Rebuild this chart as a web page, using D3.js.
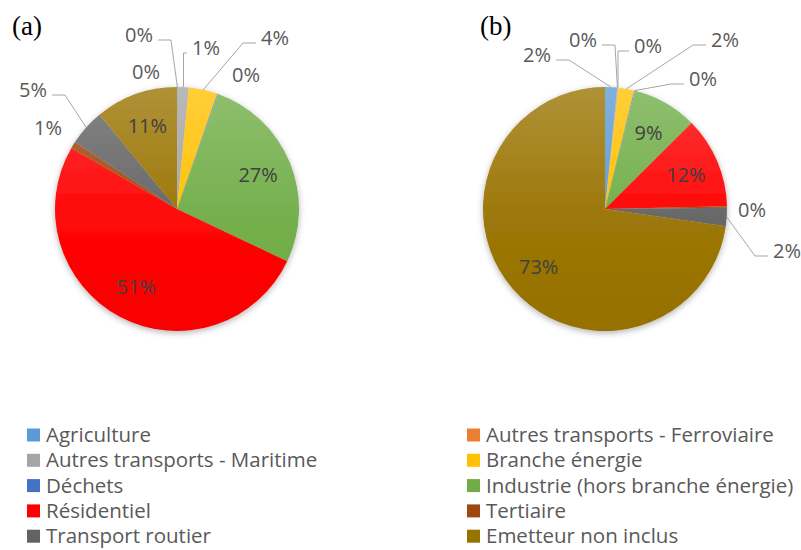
<!DOCTYPE html>
<html>
<head>
<meta charset="utf-8">
<script src="https://cdn.jsdelivr.net/npm/d3@7"></script>
<style>
  body { margin: 0; background: #fff; }
  svg { display: block; }
  .pct { font-family: "Open Sans", sans-serif; font-size: 20px; fill: #595959; }
  .pct.inside { fill: #404040; }
  .legend text { font-family: "Open Sans", sans-serif; font-size: 20.5px; fill: #595959; }
  .panel { font-family: "Liberation Serif", "Times New Roman", serif; font-size: 27px; fill: #000; }
  .leader { fill: none; stroke: #a6a6a6; stroke-width: 1; }
</style>
</head>
<body>
<svg width="801" height="550"></svg>
<script>
// categories, in legend / slice order
var categories = ["Agriculture", "Autres transports - Ferroviaire", "Autres transports - Maritime",
    "Branche énergie", "Déchets", "Industrie (hors branche énergie)", "Résidentiel",
    "Tertiaire", "Transport routier", "Emetteur non inclus"];
var colors = ["#5b9bd5", "#ed7d31", "#a5a5a5", "#ffc000", "#4472c4", "#70ad47", "#ff0000",
    "#9e480e", "#636363", "#997300"];

// parts in %
var valuesA = [0.1, 0.05, 1.4, 3.8, 0.1, 26.6, 51.3, 0.9, 4.8, 10.95];
var valuesB = [1.6, 0.05, 0.1, 2.1, 0.1, 8.6, 12.1, 0.2, 2.4, 72.75];

// label placement (Excel "best fit"): offset from pie centre, and whether a leader line is drawn
// slices not listed here get their label inside
var outsideA = {
    0: [-38, -174, true], 1: [-31, -137, false], 2: [29, -161, true], 3: [98, -171, true],
    4: [69, -134, false], 7: [-129, -81, false], 8: [-144, -119, true]
};
var outsideB = {
    0: [-68, -154, true], 1: [-22, -169, true], 2: [43, -163, true], 3: [120, -169, true],
    4: [98, -130, true], 7: [147, 1, false], 8: [182, 42, true]
};

var radius = 122;
var svg = d3.select("svg");
var defs = svg.append("defs");

var shade = defs.append("linearGradient").attr("id", "shade")
    .attr("x1", 0).attr("y1", 0).attr("x2", 0).attr("y2", 1);
shade.append("stop").attr("offset", "0%").attr("stop-color", "#fff").attr("stop-opacity", 0.22);
shade.append("stop").attr("offset", "55%").attr("stop-color", "#fff").attr("stop-opacity", 0.03);
shade.append("stop").attr("offset", "100%").attr("stop-color", "#000").attr("stop-opacity", 0.02);

var shadow = defs.append("filter").attr("id", "shadow")
    .attr("x", "-20%").attr("y", "-20%").attr("width", "140%").attr("height", "140%");
shadow.append("feDropShadow").attr("dx", 0).attr("dy", 2).attr("stdDeviation", 3)
    .attr("flood-color", "#000").attr("flood-opacity", 0.3);

var pie = d3.pie().sort(null).value(d => d.value);
var arc = d3.arc().innerRadius(0).outerRadius(radius);
var edgeArc = d3.arc().innerRadius(radius).outerRadius(radius);
var insideArc = d3.arc().innerRadius(radius * 0.72).outerRadius(radius * 0.72);
var fmt = d3.format(".0f");

function drawPie(cx, cy, values, outside, title, titleX) {
    var data = categories.map((c, i) => ({ name: c, value: values[i], i: i }));
    var g = svg.append("g").attr("transform", `translate(${cx},${cy})`);

    svg.append("text").attr("class", "panel").attr("x", titleX).attr("y", 35).text(title);

    var slices = g.append("g").attr("filter", "url(#shadow)");
    slices.selectAll("path")
        .data(pie(data))
        .join("path")
        .attr("d", arc)
        .attr("fill", d => colors[d.data.i]);
    slices.append("circle").attr("r", radius).attr("fill", "url(#shade)");

    var labels = g.append("g");
    pie(data).forEach(function (d) {
        var txt = fmt(d.data.value) + "%";
        var o = outside[d.data.i];
        if (!o) {
            var c = insideArc.centroid(d);
            labels.append("text").attr("class", "pct inside")
                .attr("x", c[0]).attr("y", c[1]).attr("dy", "0.35em")
                .attr("text-anchor", "middle").text(txt);
            return;
        }
        var t = labels.append("text").attr("class", "pct")
            .attr("x", o[0]).attr("y", o[1]).attr("dy", "0.35em")
            .attr("text-anchor", "middle").text(txt);
        if (!o[2]) return;
        var w = t.node().getComputedTextLength() / 2;
        var p = edgeArc.centroid(d);
        var y0 = o[1] + 5;
        var x0, x1;
        if (o[0] < p[0]) {
            x0 = o[0] + w + 5;
            x1 = x0 + Math.min(13, Math.max(0, p[0] - x0));
        } else {
            x0 = o[0] - w - 5;
            x1 = x0 - Math.min(13, Math.max(0, x0 - p[0]));
        }
        labels.insert("path", "text").attr("class", "leader")
            .attr("d", d3.line()([[x0, y0], [x1, y0], p]));
    });
}

drawPie(177, 209, valuesA, outsideA, "(a)", 12);
drawPie(605, 209, valuesB, outsideB, "(b)", 480);

// legend, two columns
var legend = svg.append("g").attr("class", "legend");
var item = legend.selectAll("g")
    .data(categories)
    .join("g")
    .attr("transform", (d, i) => `translate(${i % 2 ? 467 : 27},${435 + Math.floor(i / 2) * 25.3})`);
item.append("rect").attr("x", 0).attr("y", -6.5).attr("width", 13).attr("height", 13)
    .attr("fill", (d, i) => colors[i]);
item.append("text").attr("x", 19).attr("dy", "0.35em").text(d => d);
</script>
</body>
</html>
